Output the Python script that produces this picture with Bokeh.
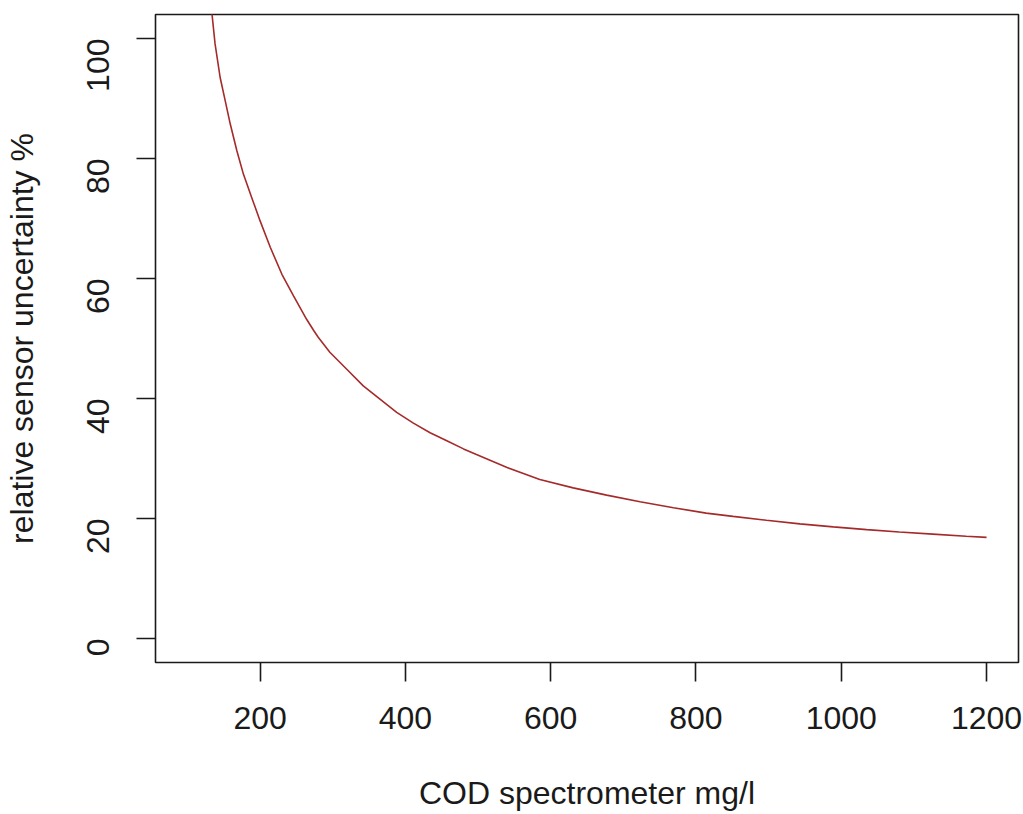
import math
from bokeh.plotting import figure
from bokeh.models import Range1d, FixedTicker
from bokeh.embed import file_html
from bokeh.resources import INLINE

# Values
cod_mg_l = [133, 134, 138, 145, 152, 159, 168, 177, 189, 200, 214, 230, 246,
            264, 274, 280, 296, 320, 342, 365, 388, 411, 434, 457, 480, 497,
            540, 585, 631, 677, 723, 769, 814, 851, 897, 943, 989, 1035, 1080,
            1126, 1172, 1200]
uncertainty_pct = [105, 103.8, 99.1, 93.5, 89.6, 85.7, 81.3, 77.4, 73.3, 69.6,
                   65.2, 60.7, 57.1, 53.2, 51.3, 50.2, 47.7, 44.8, 42.1, 39.9,
                   37.7, 35.9, 34.3, 32.95, 31.6, 30.7, 28.5, 26.5, 25.1, 23.9,
                   22.8, 21.8, 20.9, 20.35, 19.7, 19.1, 18.6, 18.15, 17.75, 17.4,
                   17.05, 16.85]
x_ticks = [200, 400, 600, 800, 1000, 1200]
y_ticks = [0, 20, 40, 60, 80, 100]

FONT = "Liberation Sans"
FS = "32px"
INK = "#1a1a1a"

p = figure(width=1023, height=814, output_backend="svg", toolbar_location=None,
           x_range=Range1d(56, 1244), y_range=Range1d(-4, 104),
           min_border_left=155, min_border_right=5, min_border_top=14,
           min_border_bottom=152)

p.line(cod_mg_l, uncertainty_pct, line_color="#A52A2A", line_width=1.6)

p.xgrid.visible = False
p.ygrid.visible = False
p.background_fill_color = "white"
p.border_fill_color = "white"
p.outline_line_color = INK
p.outline_line_width = 1.6

for ax in (p.xaxis[0], p.yaxis[0]):
    ax.axis_line_color = None
    ax.major_tick_line_color = INK
    ax.major_tick_line_width = 1.6
    ax.major_tick_out = 19
    ax.major_tick_in = 0
    ax.minor_tick_line_color = None
    ax.major_label_text_font = FONT
    ax.major_label_text_font_size = FS
    ax.major_label_text_color = INK
    ax.axis_label_text_font = FONT
    ax.axis_label_text_font_size = FS
    ax.axis_label_text_font_style = "normal"
    ax.axis_label_text_color = INK

p.xaxis.ticker = FixedTicker(ticks=x_ticks)
p.yaxis.ticker = FixedTicker(ticks=y_ticks)
p.xaxis.axis_label = "COD spectrometer mg/l"
p.yaxis.axis_label = "relative sensor uncertainty %"
p.xaxis.major_label_standoff = 25
p.yaxis.major_label_standoff = 39
p.yaxis.major_label_orientation = math.pi / 2
p.xaxis.axis_label_standoff = 43
p.yaxis.axis_label_standoff = 33

open("out.html", "w").write(file_html(p, INLINE))
